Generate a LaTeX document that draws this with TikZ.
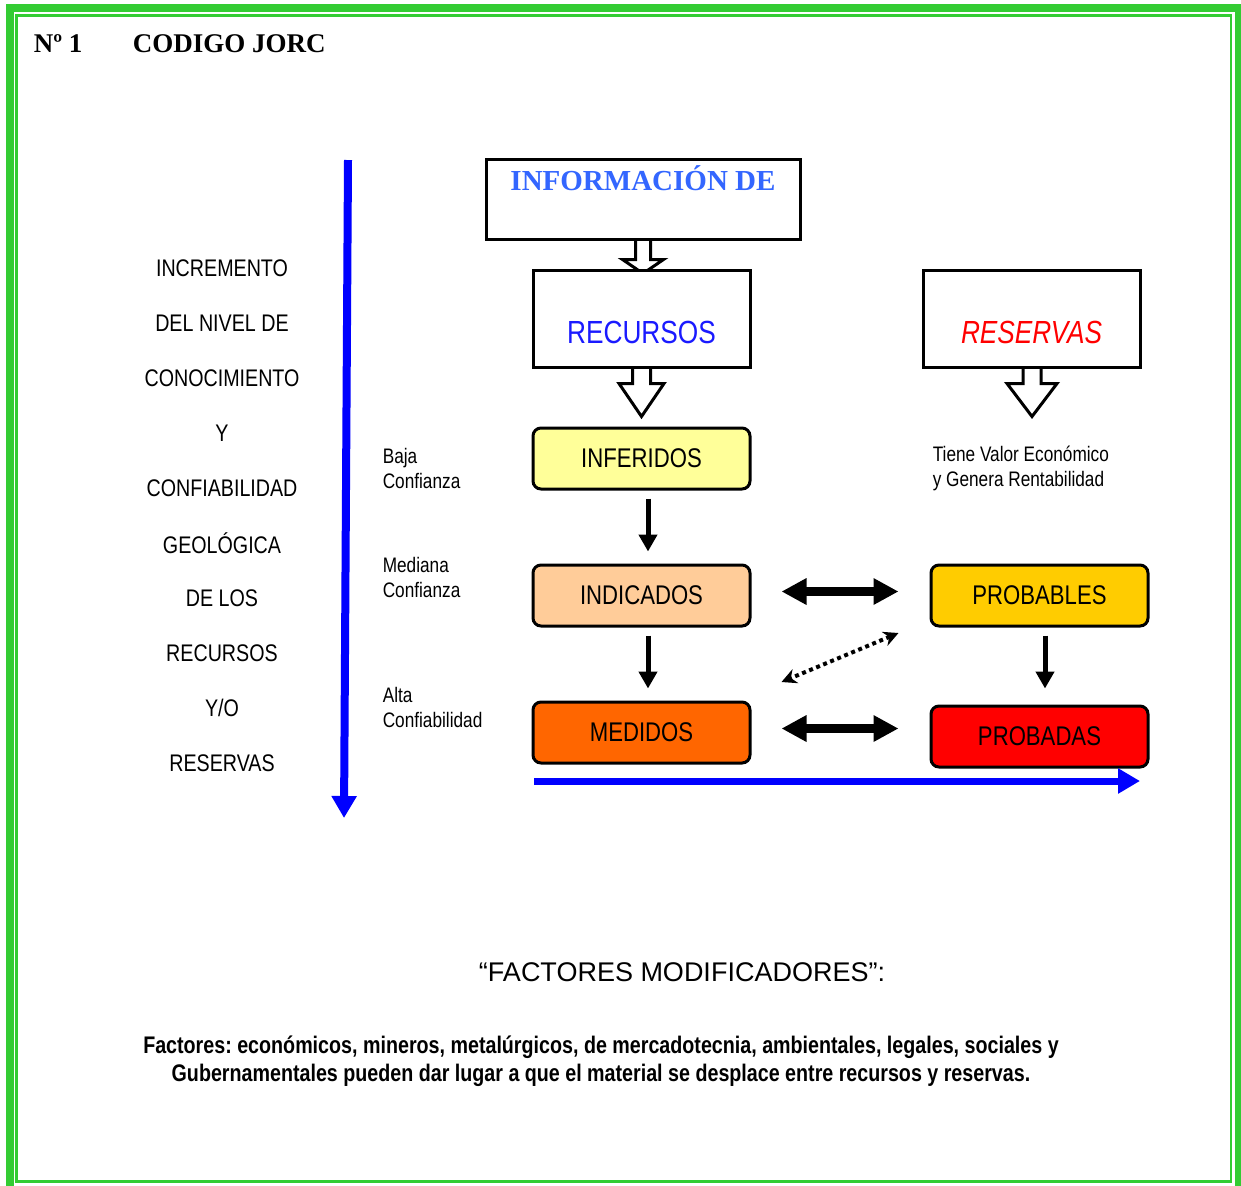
\documentclass[tikz,border=0pt]{standalone}
\usepackage{fontspec}
\setmainfont{Liberation Sans}
\newfontfamily\narrowfont[FakeStretch=0.82]{Liberation Sans}
\newfontfamily\timesfont{Liberation Serif}
\usetikzlibrary{arrows.meta, calc, backgrounds}
\definecolor{borde}{HTML}{33CC33}
\definecolor{azulinfo}{HTML}{3366FF}
\definecolor{azulrec}{HTML}{1A1AFF}
\definecolor{inferido}{HTML}{FFFF99}
\definecolor{indicado}{HTML}{FFCC99}
\definecolor{medido}{HTML}{FF6600}
\definecolor{probable}{HTML}{FFCC00}
\definecolor{probada}{HTML}{FF0000}
\frenchspacing

\begin{document}
\begin{tikzpicture}[x=0.5pt, y=-0.5pt, thick,
  nivel/.style = {font=\narrowfont\fontsize{12}{14}\selectfont},
  conf/.style = {font=\narrowfont\fontsize{10.5}{12.5}\selectfont, align=left, anchor=west, inner sep=0},
  cat/.style = {draw, line width=1.5pt, rounded corners=4pt, minimum width=108.5pt, minimum height=30.5pt, font=\narrowfont\fontsize{13.5}{16}\selectfont},
  grande/.style = {draw, line width=1.5pt, fill=white, minimum width=108.5pt, minimum height=48.5pt},
  hueco/.style = {draw, line width=1.5pt, fill=white, line join=miter},
  flecha/.style = {-{Triangle[length=8.5pt, width=9pt]}, line width=2.5pt},
  doble/.style = {{Triangle[length=12.5pt, width=12.5pt]}-{Triangle[length=12.5pt, width=12.5pt]}, line width=4.5pt},
  punteado/.style = {{Stealth[length=7.5pt, width=7.5pt]}-{Stealth[length=7.5pt, width=7.5pt]}, line width=2pt, dash pattern=on 2pt off 1.8pt},
  azul/.style = {blue, line width=4pt, -{Triangle[length=11pt, width=12pt]}}]
\useasboundingbox (0,0) rectangle (1241,1185);

% marco
\draw[borde, line width=4pt] (9.5,8) rectangle (1239,1200);
\draw[borde, line width=1.2pt] (16.5,15.5) rectangle (1231,1181.5);

% titulo
\node[anchor=base west, inner sep=0, font=\timesfont\bfseries\fontsize{13.5}{16}\selectfont] (num) at (33,52) {Nº 1};
\node[anchor=base west, inner sep=0, font=\timesfont\bfseries\fontsize{13.5}{16}\selectfont] (tit) at (132,52) {CODIGO JORC};

% columna izquierda
\foreach \txt [count=\i from 0] in {INCREMENTO, DEL NIVEL DE, CONOCIMIENTO, Y, CONFIABILIDAD, GEOLÓGICA, DE LOS, RECURSOS, Y/O, RESERVAS}
  \node[nivel] (niv\i) at (222, {268+55*\i}) {\txt};

\coordinate (vtop) at (348,160);
\coordinate (vbot) at (344,818);
\draw[azul] (vtop) -- (vbot);

\node[conf] (baja) at (382,468.5) {Baja\\Confianza};
\node[conf] (mediana) at (382,577.5) {Mediana\\Confianza};
\node[conf] (alta) at (382,707.5) {Alta\\Confiabilidad};

% cajas superiores
\node[grande, minimum width=157pt, minimum height=40pt,
  label={[anchor=north, yshift=-0.5pt, text=azulinfo, font=\timesfont\bfseries\fontsize{14.5}{17}\selectfont]north:INFORMACIÓN DE}] (info) at (643,199) {};
\node[grande, label={[yshift=-7pt, text=azulrec, font=\narrowfont\fontsize{16}{19}\selectfont]center:RECURSOS}] (rec) at (641.5,318.5) {};
\node[grande, label={[yshift=-7pt, text=red, font=\narrowfont\itshape\fontsize{16}{19}\selectfont]center:RESERVAS}] (res) at (1031.5,318.5) {};

\begin{scope}[on background layer]
\draw[hueco] ($(info.south)+(-7.5,0)$) -- ++(0,19) -- ++(-13,0) -- ++(20.5,14) -- ++(20.5,-14) -- ++(-13,0) -- ++(0,-19);
\draw[hueco] ($(rec.south)+(-9,0)$) -- ++(0,15) -- ++(-13.5,0) -- ++(22.5,33) -- ++(22.5,-33) -- ++(-13.5,0) -- ++(0,-15);
\draw[hueco] ($(res.south)+(-8.5,0)$) -- ++(0,15) -- ++(-16,0) -- ++(25,33) -- ++(25,-33) -- ++(-16,0) -- ++(0,-15);
\end{scope}

\node[conf] (tiene) at (932,468.5) {Tiene Valor Económico\\y Genera Rentabilidad};

% categorias
\node[cat, fill=inferido] (inf) at (641.5,458.5) {INFERIDOS};
\node[cat, fill=indicado] (ind) at (641.5,595.5) {INDICADOS};
\node[cat, fill=medido] (med) at (641.5,732.5) {MEDIDOS};
\node[cat, fill=probable] (prob) at (1039.5,595.5) {PROBABLES};
\node[cat, fill=probada] (proba) at (1039.5,736.5) {PROBADAS};

\draw[flecha] ($(inf.south)+(6.5,8)$) -- ($(ind.north)+(6.5,-12)$);
\draw[flecha] ($(ind.south)+(6.5,8)$) -- ($(med.north)+(6.5,-12)$);
\draw[flecha] ($(prob.south)+(5.5,8)$) -- ($(proba.north)+(5.5,-16)$);

\draw[doble] ($(ind.east)+(30,-4)$) -- ($(prob.west)+(-31,-4)$);
\draw[doble] ($(med.east)+(30,-4)$) -- ($(med.east -| proba.west)+(-31,-4)$);
\draw[punteado] ($(prob.west)+(-31,37.5)$) -- ($(ind.east)+(30,86.5)$);

\coordinate (hizq) at (534,781);
\coordinate (hder) at (1140,781);
\draw[azul, line width=3.5pt] (hizq) -- (hder);

% factores
\node[font=\fontsize{13.5}{15}\selectfont] (fact) at (682,972) {“FACTORES MODIFICADORES”:};
\node[font=\narrowfont\bfseries\fontsize{12}{14}\selectfont, align=center] (facts) at (601,1061)
  {Factores: económicos, mineros, metalúrgicos, de mercadotecnia, ambientales, legales, sociales y\\
   Gubernamentales pueden dar lugar a que el material se desplace entre recursos y reservas.};
\end{tikzpicture}
\end{document}
